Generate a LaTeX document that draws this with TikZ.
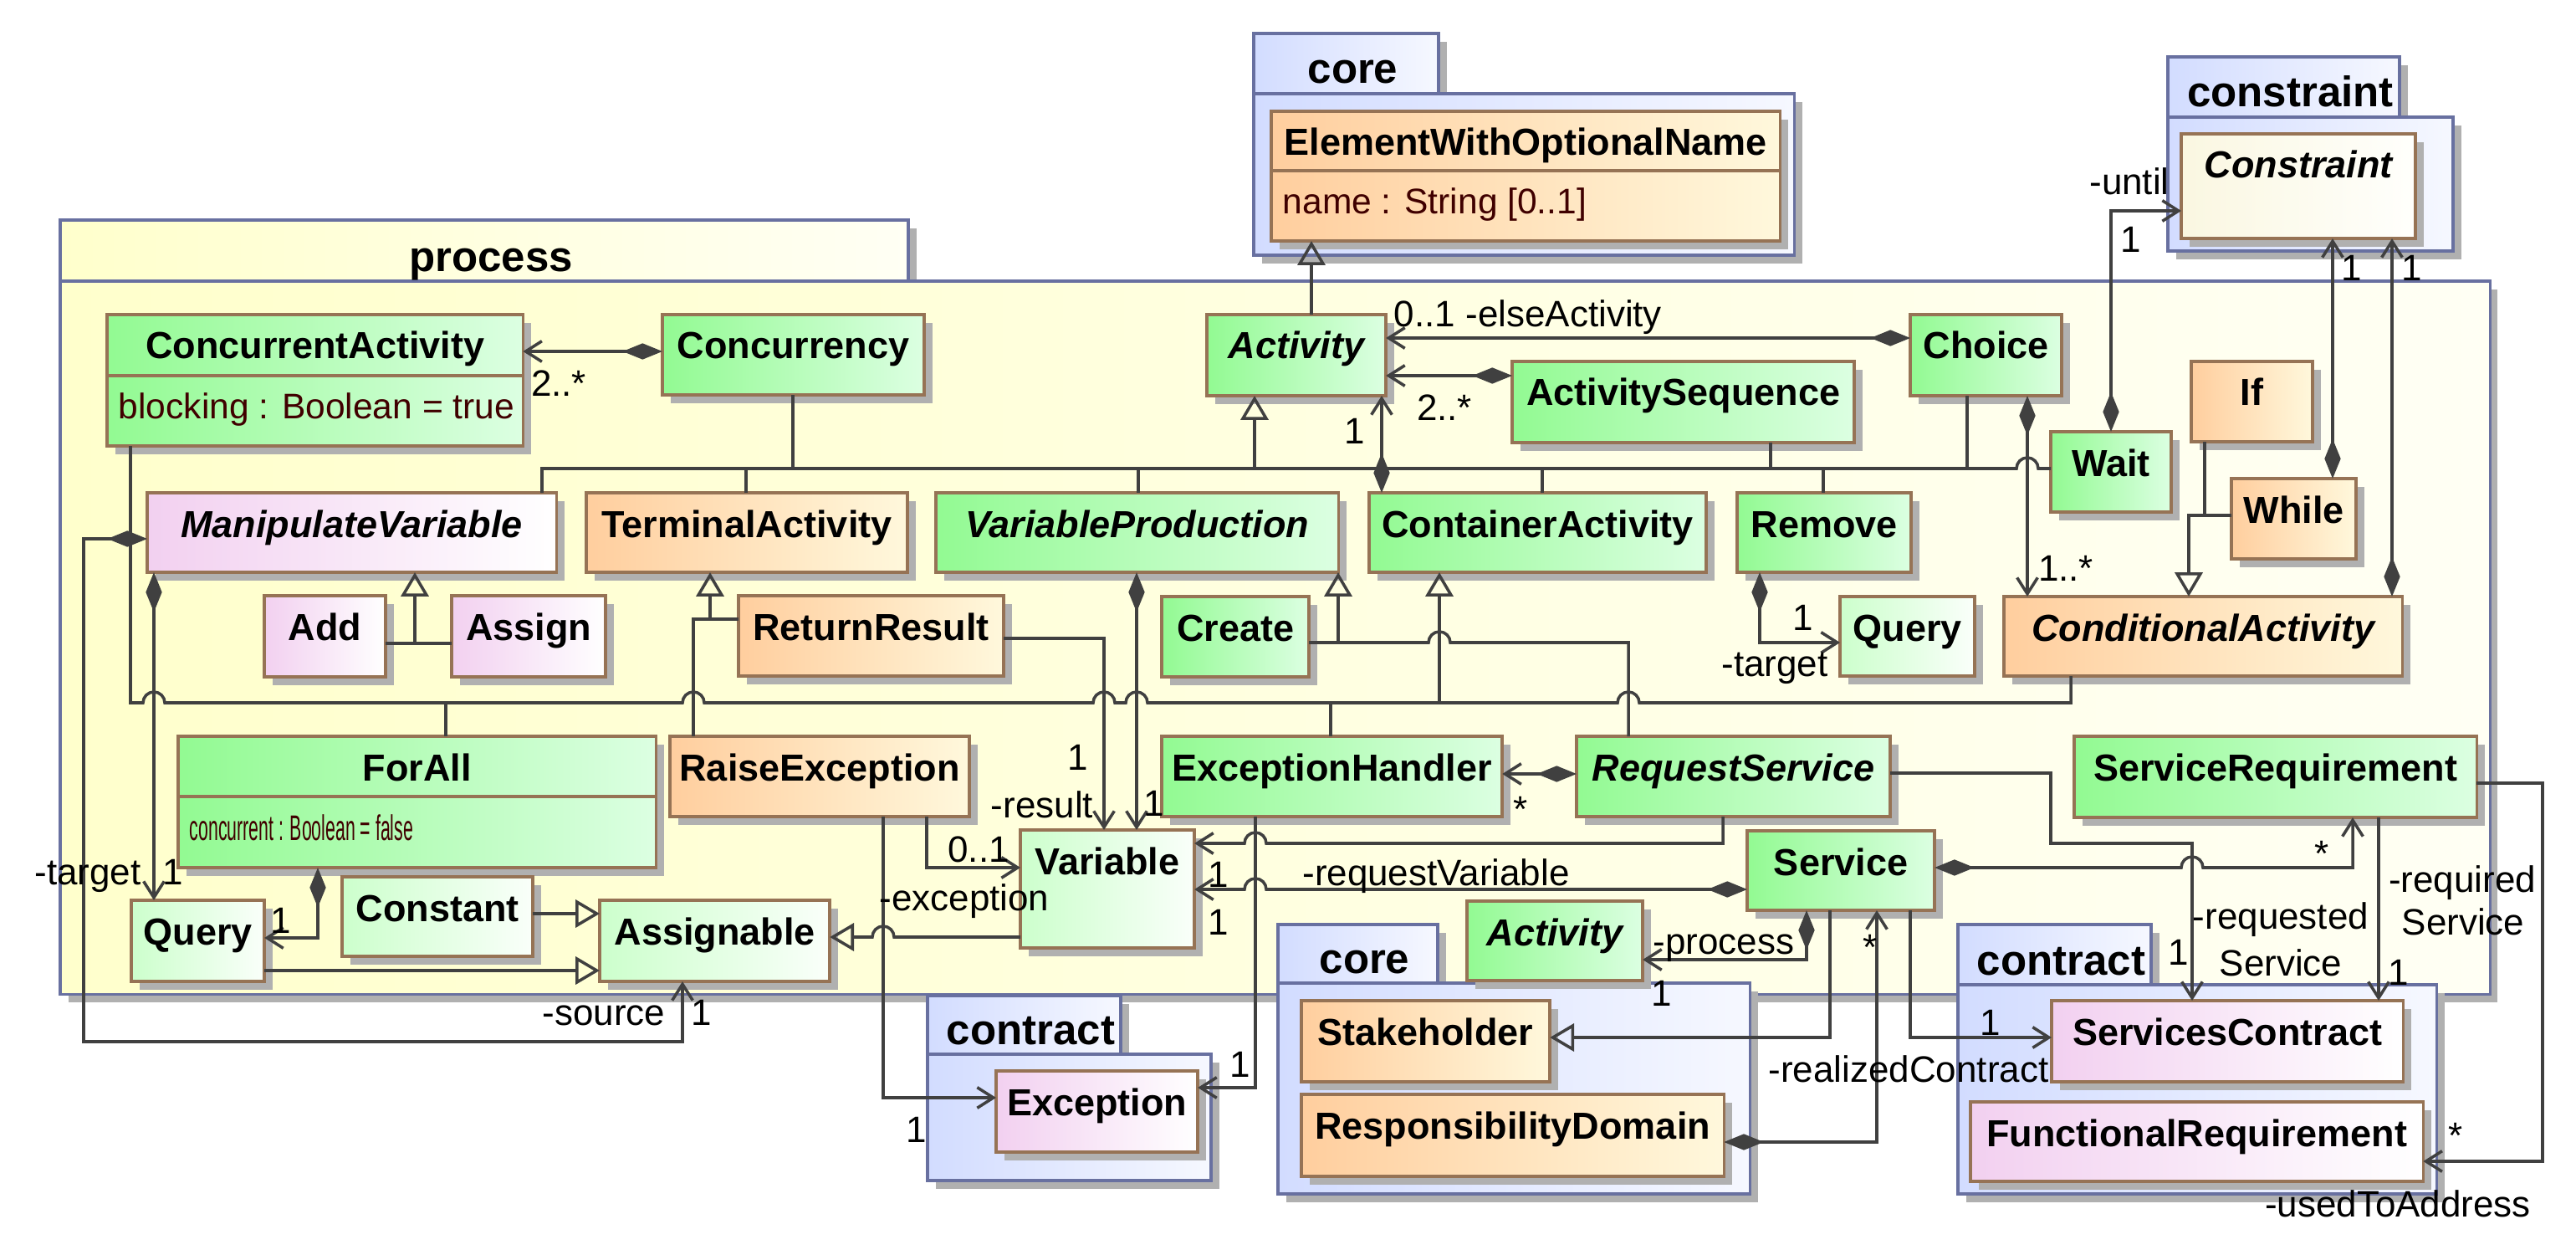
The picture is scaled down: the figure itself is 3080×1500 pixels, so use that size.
\documentclass[tikz,border=0pt]{standalone}
\usepackage{fontspec}
\setmainfont{Liberation Sans}
\usepackage{graphicx}
\usetikzlibrary{arrows.meta,calc}
\definecolor{lnc}{RGB}{64,64,64}
\definecolor{bordc}{RGB}{150,115,85}
\definecolor{shadowc}{RGB}{176,176,176}
\definecolor{pkgb}{RGB}{104,112,160}
\definecolor{grL}{RGB}{146,250,146}
\definecolor{grR}{RGB}{220,255,226}
\definecolor{orL}{RGB}{255,206,158}
\definecolor{orR}{RGB}{255,248,220}
\definecolor{pkL}{RGB}{242,208,240}
\definecolor{pkR}{RGB}{255,255,255}
\definecolor{ltL}{RGB}{204,255,204}
\definecolor{ltR}{RGB}{250,255,250}
\definecolor{cnL}{RGB}{250,247,225}
\definecolor{cnR}{RGB}{255,255,252}
\definecolor{blL}{RGB}{210,220,255}
\definecolor{blR}{RGB}{246,248,255}
\definecolor{ylL}{RGB}{255,255,204}
\definecolor{ylR}{RGB}{255,255,244}
\definecolor{attrc}{RGB}{64,0,0}
\tikzset{
  conn/.style={draw=lnc, line width=1pt},
  assoc/.style={conn, -{Straight Barb[length=5.5pt,width=7pt]}},
  comp/.style={conn, {Diamond[length=13.5pt,width=5.5pt]}-{Straight Barb[length=5.5pt,width=7pt]}},
  gen/.style={conn, -{Triangle[open,length=8.2pt,width=9.4pt]}},
  clsbox/.style={draw=bordc, line width=1pt, inner sep=0pt, outer sep=0pt},
  pkgbox/.style={draw=pkgb, line width=1pt, inner sep=0pt, outer sep=0pt},
  pkgline/.style={draw=pkgb, line width=1pt},
  clsname/.style={anchor=base, inner sep=0pt, font=\fontsize{12.8}{15}\selectfont\bfseries},
  attr/.style={anchor=base west, inner sep=0pt, text=attrc, font=\fontsize{12.1}{15}\selectfont},
  lbl/.style={anchor=base, inner sep=0pt, font=\fontsize{12.5}{15}\selectfont},
  pkglabel/.style={anchor=base, inner sep=0pt, font=\fontsize{14.5}{17}\selectfont\bfseries},
  hopr/.style={start angle=180, end angle=0, radius=0.13cm},
  hopl/.style={start angle=0, end angle=180, radius=0.13cm}
}
\newcommand\umlcls[7]{%
  \fill[shadowc] (#2+10,#3+10) rectangle (#4+10,#5+10);
  \pgfmathsetlengthmacro\bw{(#4-(#2))*0.284528}%
  \pgfmathsetlengthmacro\bh{(#5-(#3))*0.284528}%
  \node[clsbox, left color=#6L, right color=#6R, minimum width=\bw, minimum height=\bh, anchor=north west] (#1) at (#2,#3) {};
  \node[clsname] (#1-name) at ($(#1.north)+(0,53)$) {#7};
}
\newcommand\umlattr[3]{%
  \draw[bordc, line width=1pt] (#1.west |- 0,#2) -- (#1.east |- 0,#2);
  \node[attr] (#1-attr) at ($(#1.west |- 0,#2)+(13,52)$) {#3};
}
\newcommand\umlpkg[9]{%
  \fill[shadowc] (#2+10,#3+10) rectangle (#4+10,#5+10);
  \fill[shadowc] (#2+10,#5+10) rectangle (#6+10,#7+10);
  \path[pkgline, left color=#9L, right color=#9R] (#2,#3) rectangle (#4,#5);
  \pgfmathsetlengthmacro\bw{(#6-(#2))*0.284528}%
  \pgfmathsetlengthmacro\bh{(#7-(#5))*0.284528}%
  \node[pkgbox, left color=#9L, right color=#9R, minimum width=\bw, minimum height=\bh, anchor=north west] (#1) at (#2,#5) {};
  \node[pkglabel] (#1-lbl) at ({(#2+#4)/2+8},#5-12) {#8};
}
\newcounter{lbn}
\newcommand\lab[3]{\stepcounter{lbn}\node[lbl] (lab\arabic{lbn}) at (#1,#2) {#3};}
\begin{document}
\begin{tikzpicture}[x=0.01cm,y=-0.01cm]
\useasboundingbox (0,0) rectangle (3080,1500);
% packages
\umlpkg{pkgProc}{72}{263}{1086}{336}{2976}{1188}{process}{yl}
\umlpkg{pkgCoreA}{1499}{40}{1720}{112}{2145}{305}{core}{bl}
\umlpkg{pkgConstr}{2592}{68}{2869}{140}{2933}{300}{constraint}{bl}
\umlpkg{pkgContrA}{1109}{1190}{1340}{1260}{1448}{1411}{contract}{bl}
\umlpkg{pkgCoreB}{1528}{1105}{1719}{1175}{2092}{1427}{core}{bl}
\umlpkg{pkgContrB}{2341}{1105}{2572}{1177}{2913}{1427}{contract}{bl}
% classes
\umlcls{EWON}{1520}{133}{2128}{288}{or}{ElementWithOptionalName}
\umlattr{EWON}{204}{name : String [0..1]}
\umlcls{Constraint}{2608}{160}{2888}{285}{cn}{\itshape Constraint}
\umlcls{ConcAct}{128}{376}{625}{533}{gr}{ConcurrentActivity}
\umlattr{ConcAct}{449}{blocking : Boolean = true}
\umlcls{Concurrency}{792}{376}{1105}{472}{gr}{Concurrency}
\umlcls{Activity}{1443}{376}{1657}{473}{gr}{\itshape Activity}
\umlcls{ActSeq}{1808}{432}{2217}{529}{gr}{ActivitySequence}
\umlcls{Choice}{2284}{376}{2465}{473}{gr}{Choice}
\umlcls{Wait}{2452}{516}{2596}{612}{gr}{Wait}
\umlcls{If}{2620}{432}{2765}{528}{or}{If}
\umlcls{While}{2668}{572}{2817}{668}{or}{While}
\umlcls{ManipVar}{176}{589}{665}{684}{pk}{\itshape ManipulateVariable}
\umlcls{TermAct}{701}{589}{1085}{684}{or}{TerminalActivity}
\umlcls{VarProd}{1119}{589}{1600}{684}{gr}{\itshape VariableProduction}
\umlcls{ContAct}{1637}{589}{2040}{684}{gr}{ContainerActivity}
\umlcls{Remove}{2077}{589}{2285}{684}{gr}{Remove}
\umlcls{QueryR}{2200}{713}{2361}{808}{lt}{Query}
\umlcls{CondAct}{2396}{713}{2872}{808}{or}{\itshape ConditionalActivity}
\umlcls{Add}{316}{712}{461}{809}{pk}{Add}
\umlcls{Assign}{540}{712}{724}{809}{pk}{Assign}
\umlcls{ReturnRes}{883}{712}{1200}{808}{or}{ReturnResult}
\umlcls{Create}{1389}{713}{1565}{809}{gr}{Create}
\umlcls{ForAll}{213}{880}{784}{1037}{gr}{ForAll}
\umlattr{ForAll}{952}{\scalebox{0.5}[1]{concurrent : Boolean = false}}
\umlcls{RaiseExc}{801}{880}{1159}{976}{or}{RaiseException}
\umlcls{ExcHandler}{1389}{880}{1796}{976}{gr}{ExceptionHandler}
\umlcls{ReqServ}{1885}{880}{2260}{976}{gr}{\itshape RequestService}
\umlcls{ServReq}{2480}{880}{2961}{977}{gr}{ServiceRequirement}
\umlcls{Variable}{1220}{992}{1428}{1133}{lt}{Variable}
\umlcls{Service}{2089}{993}{2313}{1088}{gr}{Service}
\umlcls{ActivityB}{1754}{1077}{1964}{1172}{gr}{\itshape Activity}
\umlcls{QueryL}{157}{1076}{316}{1173}{lt}{Query}
\umlcls{Constant}{409}{1048}{637}{1143}{lt}{Constant}
\umlcls{Assignable}{717}{1076}{992}{1173}{lt}{Assignable}
\umlcls{Exception}{1191}{1280}{1432}{1377}{pk}{Exception}
\umlcls{Stakeholder}{1556}{1196}{1853}{1293}{or}{Stakeholder}
\umlcls{RespDom}{1556}{1308}{2061}{1406}{or}{ResponsibilityDomain}
\umlcls{ServContract}{2453}{1196}{2873}{1293}{pk}{ServicesContract}
\umlcls{FuncReq}{2356}{1317}{2897}{1412}{pk}{FunctionalRequirement}
% connectors
\draw[gen] (1568,0 |- Activity.north) -- (1568,0 |- EWON.south);
\draw[comp] (Concurrency.west |- 0,420) -- (ConcAct.east |- 0,420);
\draw[comp] (ActSeq.west |- 0,449) -- (Activity.east |- 0,449);
\draw[comp] (Choice.west |- 0,404) -- (Activity.east |- 0,404);
\draw[comp] (1652,0 |- ContAct.north) -- (1652,0 |- Activity.south);
% tree into Activity
\draw[conn] (648,0 |- ManipVar.north) |- (2411,560) arc[hopr] -- (Wait.west |- 0,560);
\draw[conn] (892,0 |- TermAct.north) -- (892,560);
\draw[conn] (948,0 |- Concurrency.south) -- (948,560);
\draw[conn] (1361,0 |- VarProd.north) -- (1361,560);
\draw[conn] (1844,0 |- ContAct.north) -- (1844,560);
\draw[conn] (2117,0 |- ActSeq.south) -- (2117,560);
\draw[conn] (2180,0 |- Remove.north) -- (2180,560);
\draw[conn] (2352,0 |- Choice.south) -- (2352,560);
\draw[gen] (1500,560) -- (1500,0 |- Activity.south);
% tree into ContainerActivity
\draw[conn] (156,0 |- ConcAct.south) -- (156,840) -- (171,840) arc[hopr] -- (816,840) arc[hopr] -- (1307,840) arc[hopr] -- (1346,840) arc[hopr] -- (1934,840) arc[hopr] -- (2476,840) -- (2476,0 |- CondAct.south);
\draw[conn] (533,840) -- (533,0 |- ForAll.north);
\draw[conn] (1591,840) -- (1591,0 |- ExcHandler.north);
\draw[gen] (1721,840) -- (1721,0 |- ContAct.south);
% tree into VariableProduction
\draw[conn] (Create.east |- 0,768) -- (1708,768) arc[hopr] -- (1947,768) -- (1947,0 |- ReqServ.north);
\draw[gen] (1600,768) -- (1600,0 |- VarProd.south);
% tree into TerminalActivity
\draw[conn] (829,0 |- RaiseExc.north) -- (829,740) -- (ReturnRes.west |- 0,740);
\draw[gen] (849,740) -- (849,0 |- TermAct.south);
% tree into ManipulateVariable
\draw[conn] (Add.east |- 0,769) -- (Assign.west |- 0,769);
\draw[gen] (496,769) -- (496,0 |- ManipVar.south);
% associations
\draw[comp] (184,0 |- ManipVar.south) -- (184,0 |- QueryL.north);
\draw[comp] (ManipVar.west |- 0,644) -- (100,644) -- (100,1245) -- (816,1245) -- (816,0 |- Assignable.south);
\draw[comp] (380,0 |- ForAll.south) |- (QueryL.east |- 0,1121);
\draw[gen] (Constant.east |- 0,1092) -- (Assignable.west |- 0,1092);
\draw[gen] (QueryL.east |- 0,1160) -- (Assignable.west |- 0,1160);
\draw[gen] (Variable.west |- 0,1120) -- (1069,1120) arc[hopl] -- (Assignable.east |- 0,1120);
\draw[assoc] (1056,0 |- RaiseExc.south) |- (Exception.west |- 0,1312);
\draw[assoc] (1108,0 |- RaiseExc.south) |- (Variable.west |- 0,1037);
\draw[assoc] (ReturnRes.east |- 0,763) -| (1320,0 |- Variable.north);
\draw[comp] (1359,0 |- VarProd.south) -- (1359,0 |- Variable.north);
\draw[comp] (ReqServ.west |- 0,925) -- (ExcHandler.east |- 0,925);
\draw[assoc] (1501,0 |- ExcHandler.south) |- (Exception.east |- 0,1300);
\draw[assoc] (2060,0 |- ReqServ.south) -- (2060,1008) -- (1514,1008) arc[hopl] -- (Variable.east |- 0,1008);
\draw[comp] (Service.west |- 0,1063) -- (1514,1063) arc[hopl] -- (Variable.east |- 0,1063);
\draw[comp] (2160,0 |- Service.south) |- (ActivityB.east |- 0,1147);
\draw[gen] (2188,0 |- Service.south) |- (Stakeholder.east |- 0,1240);
\draw[comp] (RespDom.east |- 0,1365) -| (2244,0 |- Service.south);
\draw[assoc] (2284,0 |- Service.south) |- (ServContract.west |- 0,1240);
\draw[comp] (Service.east |- 0,1037) -- (2608,1037) arc[hopr] -- (2813,1037) -- (2813,0 |- ServReq.south);
\draw[assoc] (ReqServ.east |- 0,924) -- (2452,924) -- (2452,1008) -- (2621,1008) -- (2621,0 |- ServContract.north);
\draw[assoc] (2844,0 |- ServReq.south) -- (2844,0 |- ServContract.north);
\draw[assoc] (ServReq.east |- 0,936) -- (3040,936) -- (3040,1388) -- (FuncReq.east |- 0,1388);
\draw[comp] (2104,0 |- Remove.south) |- (QueryR.west |- 0,768);
\draw[comp] (2424,0 |- Choice.south) -- (2424,0 |- CondAct.north);
\draw[comp] (2524,0 |- Wait.north) |- (Constraint.west |- 0,252);
\draw[conn] (2636,0 |- If.south) -- (2636,616);
\draw[gen] (While.west |- 0,616) -| (2617,0 |- CondAct.north);
\draw[comp] (2789,0 |- While.north) -- (2789,0 |- Constraint.south);
\draw[comp] (2860,0 |- CondAct.north) -- (2860,0 |- Constraint.south);
% labels
\lab{668}{474}{2..*}
\lab{1827}{390}{0..1 -elseActivity}
\lab{1727}{502}{2..*}
\lab{1620}{531}{1}
\lab{2470}{694}{1..*}
\lab{2546}{233}{-until}
\lab{2548}{301}{1}
\lab{2812}{336}{1}
\lab{2884}{336}{1}
\lab{2156}{753}{1}
\lab{2122}{808}{-target}
\lab{105}{1057}{-target}
\lab{207}{1057}{1}
\lab{336}{1115}{1}
\lab{722}{1225}{-source}
\lab{839}{1225}{1}
\lab{1153}{1088}{-exception}
\lab{1096}{1365}{1}
\lab{1170}{1030}{0..1}
\lab{1289}{920}{1}
\lab{1246}{977}{-result}
\lab{1380}{975}{1}
\lab{1818}{982}{*}
\lab{1457}{1060}{1}
\lab{1457}{1117}{1}
\lab{1717}{1058}{-requestVariable}
\lab{2061}{1140}{-process}
\lab{1987}{1202}{1}
\lab{2236}{1147}{*}
\lab{2380}{1237}{1}
\lab{2282}{1293}{-realizedContract}
\lab{2776}{1035}{*}
\lab{2605}{1153}{1}
\lab{2727}{1110}{-requested}
\lab{2727}{1166}{Service}
\lab{2944}{1066}{-required}
\lab{2945}{1117}{Service}
\lab{2868}{1177}{1}
\lab{2936}{1372}{*}
\lab{2867}{1454}{-usedToAddress}
\lab{1483}{1287}{1}
\end{tikzpicture}
\end{document}
